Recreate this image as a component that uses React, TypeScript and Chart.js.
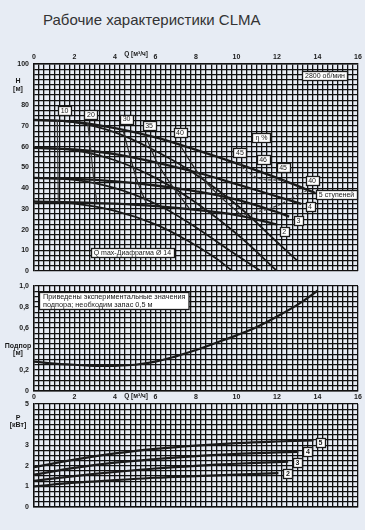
import React, { useEffect, useRef } from 'react';
import Chart from 'chart.js/auto';

const FONT = '"Liberation Sans", Arial, sans-serif';
const INK = '#1a1a1a';
const GRID = '#111111';
const BG = '#e7ecf4';

// ---- tick labels ----
const qTickLabels = [0, 2, 4, 6, 8, 10, 12, 14, 16];
const hTickLabels = [0, 10, 20, 30, 40, 50, 60, 70, 80, 100];
const npshTickLabels = [0, 0.2, 0.6, 0.8, 1.0];
const pTickLabels = [0, 1, 2, 3, 5];

// ---- H-Q curves (stages) ----
const q5 = [0, 2, 4, 6, 8, 10, 12, 13.9];
const h5 = [73, 72, 69, 64.5, 58.5, 52, 45, 37.7];
const q4 = [0, 2, 4, 6, 8, 10, 12, 13.2];
const h4 = [59.5, 58.7, 56.5, 52.5, 47.7, 42, 36, 32.4];
const q3 = [0, 2, 4, 6, 8, 10, 12, 12.6];
const h3 = [45, 44.5, 43.3, 41.3, 38.5, 34.5, 28.5, 26.3];
const q2 = [0, 2, 4, 6, 8, 10, 12];
const h2 = [33.5, 33.2, 32.5, 31.3, 29.5, 27, 22.5];

// ---- Q max with diaphragm Ø14 ----
const qd5 = [0, 2, 4, 6, 7.7, 10, 12, 13];
const hd5 = [73, 71.8, 67, 58, 48.5, 32, 14, 5];
const qd4 = [0, 2, 4, 6, 7.7, 10, 12];
const hd4 = [59.5, 58.3, 53.5, 45, 35, 18, 0];
const qd3 = [0, 2, 4, 6, 7.7, 9.5, 11.2];
const hd3 = [45, 44, 40, 32.5, 23, 11, 0];
const qd2 = [0, 2, 4, 6, 7.7, 9, 9.8];
const hd2 = [33.5, 32.5, 29, 22.5, 14, 6, 0];

// ---- efficiency iso-lines ----
const qe10 = [1.15, 1.2];
const he10 = [72.8, 33.4];
const qe20 = [2.65, 2.8, 2.95, 3.1];
const he20 = [71.7, 58.8, 44.5, 33.2];
const qe30 = [4.4, 4.7, 5.1, 5.6];
const he30 = [68, 57, 43.5, 31.5];
const qe35 = [5.5, 6.1, 6.9, 7.7];
const he35 = [65.5, 52, 40, 29.8];
const qe40 = [7.2, 8.1, 9.1, 10.3];
const he40 = [61, 47.4, 36.8, 26.5];
const qe45 = [10.1, 10.6, 11.2, 11.8, 12.4];
const he45 = [52, 47.5, 44.5, 44, 43.8];
const qe40r = [13.5, 12.8, 12, 11, 10];
const he40r = [39, 35.5, 31.5, 28.5, 26.5];

// ---- NPSH ----
const npshQ = [0, 1, 2, 3, 4, 5, 6, 7, 8, 9, 10, 11, 12, 13, 14];
const npshV = [0.28, 0.26, 0.25, 0.24, 0.24, 0.25, 0.28, 0.33, 0.39, 0.46, 0.53, 0.61, 0.71, 0.82, 0.955];

// ---- Power ----
const p5Q = [0, 2, 4, 6, 8, 10, 12, 13.8];
const p5 = [1.93, 2.3, 2.6, 2.82, 2.98, 3.1, 3.18, 3.23];
const p4Q = [0, 2, 4, 6, 8, 10, 12, 13.05];
const p4 = [1.57, 1.9, 2.15, 2.33, 2.47, 2.58, 2.65, 2.68];
const p3Q = [0, 2, 4, 6, 8, 10, 12, 12.55];
const p3 = [1.27, 1.5, 1.7, 1.87, 2.0, 2.1, 2.18, 2.2];
const p2Q = [0, 2, 4, 6, 8, 10, 12.07];
const p2 = [1.0, 1.18, 1.3, 1.42, 1.5, 1.57, 1.64];

type Lbl = { text: string; q: number; v: number };

const topBoxes: Lbl[] = [
  { text: '10', q: 1.51, v: 77.3 },
  { text: '20', q: 2.81, v: 75.6 },
  { text: '30', q: 4.57, v: 73.4 },
  { text: '35', q: 5.68, v: 70.5 },
  { text: '40', q: 7.21, v: 66.9 },
  { text: 'η %', q: 11.23, v: 64.7 },
  { text: '45', q: 10.17, v: 57.2 },
  { text: '46', q: 11.31, v: 53.9 },
  { text: '45', q: 12.3, v: 50 },
  { text: '40', q: 13.73, v: 43.7 },
  { text: '5 ступеней', q: 14.94, v: 37 },
  { text: '4', q: 13.63, v: 31.2 },
  { text: '3', q: 13.06, v: 24.6 },
  { text: '2', q: 12.35, v: 19.1 },
  { text: '2800 об/мин', q: 14.37, v: 94.4 },
  { text: 'Q max-Диафрагма Ø 14', q: 4.86, v: 8.7 },
];

const powerBoxes: Lbl[] = [
  { text: '5', q: 14.15, v: 3.15 },
  { text: '4', q: 13.53, v: 2.68 },
  { text: '3', q: 13.01, v: 2.17 },
  { text: '2', q: 12.54, v: 1.64 },
];

const TICK_FONT = { family: FONT, size: 7, weight: 'bold' as const };

const near = (arr: number[], v: number) => arr.some((t) => Math.abs(t - v) < 1e-6);
const pts = (q: number[], v: number[]) => q.map((x, i) => ({ x, y: v[i] }));

const zeroPad = (s: any) => {
  s.paddingTop = 0;
  s.paddingBottom = 0;
  s.paddingLeft = 0;
  s.paddingRight = 0;
};

function xScale(position: 'top' | 'bottom', showLabels: boolean, pad: number, height: number) {
  return {
    type: 'linear',
    position,
    min: 0,
    max: 16,
    ticks: {
      stepSize: 0.25,
      autoSkip: false,
      maxRotation: 0,
      minRotation: 0,
      display: showLabels,
      padding: pad,
      font: TICK_FONT,
      color: INK,
      callback: (v: number) => (near(qTickLabels, v) ? String(v) : ''),
    },
    grid: { color: GRID, lineWidth: 1.3, drawTicks: false },
    border: { color: GRID, width: 1.4 },
    afterFit: (s: any) => {
      s.height = height;
      zeroPad(s);
    },
  };
}

function yScale(min: number, max: number, step: number, fmt: (v: number) => string) {
  return {
    type: 'linear',
    position: 'left',
    min,
    max,
    ticks: {
      stepSize: step,
      autoSkip: false,
      padding: 5,
      font: TICK_FONT,
      color: INK,
      callback: (v: number) => fmt(v),
    },
    grid: { color: GRID, lineWidth: 1.3, drawTicks: false },
    border: { color: GRID, width: 1.4 },
    afterFit: (s: any) => {
      s.width = 34;
      zeroPad(s);
    },
  };
}

function line(q: number[], v: number[], width: number, color = INK, dash: number[] = [], tension = 0.4) {
  return {
    data: pts(q, v),
    borderColor: color,
    borderWidth: width,
    borderDash: dash,
    pointRadius: 0,
    tension,
    fill: false,
    showLine: true,
  };
}

function boxesPlugin(id: string, boxes: Lbl[], font: string) {
  return {
    id,
    afterDatasetsDraw(chart: any) {
      const { ctx, scales } = chart;
      ctx.save();
      ctx.font = font;
      ctx.textAlign = 'center';
      ctx.textBaseline = 'middle';
      for (const b of boxes) {
        const cx = scales.x.getPixelForValue(b.q);
        const cy = scales.y.getPixelForValue(b.v);
        const w = Math.ceil(ctx.measureText(b.text).width) + 5;
        const h = 9;
        const x0 = Math.round(cx - w / 2) + 0.5;
        const y0 = Math.round(cy - h / 2) + 0.5;
        ctx.fillStyle = '#ffffff';
        ctx.fillRect(x0, y0, w, h);
        ctx.strokeStyle = INK;
        ctx.lineWidth = 1.3;
        ctx.strokeRect(x0, y0, w, h);
        ctx.fillStyle = INK;
        ctx.fillText(b.text, cx, cy + 0.5);
      }
      ctx.restore();
    },
  };
}

function sideLabelPlugin(id: string, lines: { text: string; v: number }[], qLabel?: { q: number; dy: number }) {
  return {
    id,
    afterDraw(chart: any) {
      const { ctx, scales, chartArea } = chart;
      ctx.save();
      ctx.font = `bold 7px ${FONT}`;
      ctx.fillStyle = INK;
      ctx.textAlign = 'center';
      ctx.textBaseline = 'middle';
      for (const l of lines) {
        ctx.fillText(l.text, 18, scales.y.getPixelForValue(l.v));
      }
      if (qLabel) {
        ctx.font = `bold 6.5px ${FONT}`;
        const y = qLabel.dy < 0 ? chartArea.top + qLabel.dy : chartArea.bottom + qLabel.dy;
        ctx.fillText('Q [м³/ч]', scales.x.getPixelForValue(qLabel.q), y);
      }
      ctx.restore();
    },
  };
}

const noteLines = ['Приведены экспериментальные значения', 'подпора; необходим запас 0,5 м'];

const notePlugin = {
  id: 'note',
  afterDatasetsDraw(chart: any) {
    const { ctx, scales } = chart;
    ctx.save();
    ctx.font = `7.3px ${FONT}`;
    const x0 = Math.round(scales.x.getPixelForValue(0.25)) + 0.5;
    const y0 = Math.round(scales.y.getPixelForValue(0.943)) + 0.5;
    const w = Math.max(...noteLines.map((t) => ctx.measureText(t).width)) + 7;
    const h = 17;
    ctx.fillStyle = '#ffffff';
    ctx.fillRect(x0, y0, w, h);
    ctx.strokeStyle = INK;
    ctx.lineWidth = 1.3;
    ctx.strokeRect(x0, y0, w, h);
    ctx.fillStyle = INK;
    ctx.textAlign = 'left';
    ctx.textBaseline = 'middle';
    ctx.fillText(noteLines[0], x0 + 3.5, y0 + 4.5);
    ctx.fillText(noteLines[1], x0 + 3.5, y0 + 12.5);
    ctx.restore();
  },
};

const baseOpts = {
  responsive: false,
  animation: false as const,
  events: [] as any[],
  plugins: { legend: { display: false }, tooltip: { enabled: false } },
};

export default function App() {
  const topRef = useRef<HTMLCanvasElement>(null);
  const npshRef = useRef<HTMLCanvasElement>(null);
  const powRef = useRef<HTMLCanvasElement>(null);

  useEffect(() => {
    const top = new Chart(topRef.current as HTMLCanvasElement, {
      type: 'line',
      data: {
        datasets: [
          line(qe10, he10, 1.2, '#3a3a3a', [], 0),
          line(qe20, he20, 1.2, '#3a3a3a', [], 0.3),
          line(qe30, he30, 1.2, '#2a2a2a', [], 0.3),
          line(qe35, he35, 1.2, '#2a2a2a', [], 0.3),
          line(qe40, he40, 1.2, '#2a2a2a', [], 0.3),
          line(qe45, he45, 1.2, '#444', [3, 2], 0.4),
          line(qe40r, he40r, 1.2, '#444', [3, 2], 0.4),
          line(qd2, hd2, 1.8),
          line(qd3, hd3, 1.8),
          line(qd4, hd4, 1.8),
          line(qd5, hd5, 1.8),
          line(q2, h2, 2.3),
          line(q3, h3, 2.3),
          line(q4, h4, 2.3),
          line(q5, h5, 2.3),
        ] as any,
      },
      options: {
        ...baseOpts,
        layout: { padding: { top: 0, right: 7, bottom: 4, left: 0 } },
        scales: {
          x: xScale('top', true, 3, 24),
          y: yScale(0, 100, 2.5, (v) => (near(hTickLabels, v) ? String(v) : '')),
        } as any,
      },
      plugins: [
        boxesPlugin('topBoxes', topBoxes, `7px ${FONT}`),
        sideLabelPlugin('topSide', [
          { text: 'H', v: 91.6 },
          { text: '[м]', v: 87.8 },
        ], { q: 5.04, dy: -10 }),
      ],
    } as any);

    const npsh = new Chart(npshRef.current as HTMLCanvasElement, {
      type: 'line',
      data: {
        datasets: [line(npshQ, npshV, 2.2)] as any,
      },
      options: {
        ...baseOpts,
        layout: { padding: { top: 10, right: 7, bottom: 0, left: 0 } },
        scales: {
          x: xScale('bottom', true, 2, 15),
          y: yScale(0, 1, 0.05, (v) => {
            if (!near(npshTickLabels, v)) return '';
            return v === 0 ? '0' : v.toFixed(1).replace('.', ',');
          }),
        } as any,
      },
      plugins: [
        notePlugin,
        sideLabelPlugin('npshSide', [
          { text: 'Подпор', v: 0.43 },
          { text: '[м]', v: 0.36 },
        ], { q: 5.04, dy: 5.5 }),
      ],
    } as any);

    const pow = new Chart(powRef.current as HTMLCanvasElement, {
      type: 'line',
      data: {
        datasets: [
          line(p2Q, p2, 2.2),
          line(p3Q, p3, 2.2),
          line(p4Q, p4, 2.2),
          line(p5Q, p5, 2.2),
        ] as any,
      },
      options: {
        ...baseOpts,
        layout: { padding: { top: 6, right: 7, bottom: 23, left: 0 } },
        scales: {
          x: xScale('bottom', false, 0, 0),
          y: yScale(0, 5, 0.25, (v) => (near(pTickLabels, v) ? String(v) : '')),
        } as any,
      },
      plugins: [
        boxesPlugin('powBoxes', powerBoxes, `bold 7px ${FONT}`),
        sideLabelPlugin('powSide', [
          { text: 'P', v: 4.3 },
          { text: '[кВт]', v: 3.97 },
        ]),
      ],
    } as any);

    return () => {
      top.destroy();
      npsh.destroy();
      pow.destroy();
    };
  }, []);

  return (
    <div
      style={{
        position: 'fixed',
        left: 0,
        top: 0,
        width: 365,
        height: 530,
        background: BG,
        overflow: 'hidden',
      }}
    >
      <div
        style={{
          position: 'absolute',
          left: 43,
          top: 11,
          fontFamily: FONT,
          fontSize: 15,
          color: '#333',
          whiteSpace: 'nowrap',
        }}
      >
        Рабочие характеристики CLMA
      </div>
      <canvas ref={topRef} width={365} height={235} style={{ position: 'absolute', left: 0, top: 40 }} />
      <canvas ref={npshRef} width={365} height={130} style={{ position: 'absolute', left: 0, top: 276 }} />
      <canvas ref={powRef} width={365} height={132} style={{ position: 'absolute', left: 0, top: 398 }} />
    </div>
  );
}
